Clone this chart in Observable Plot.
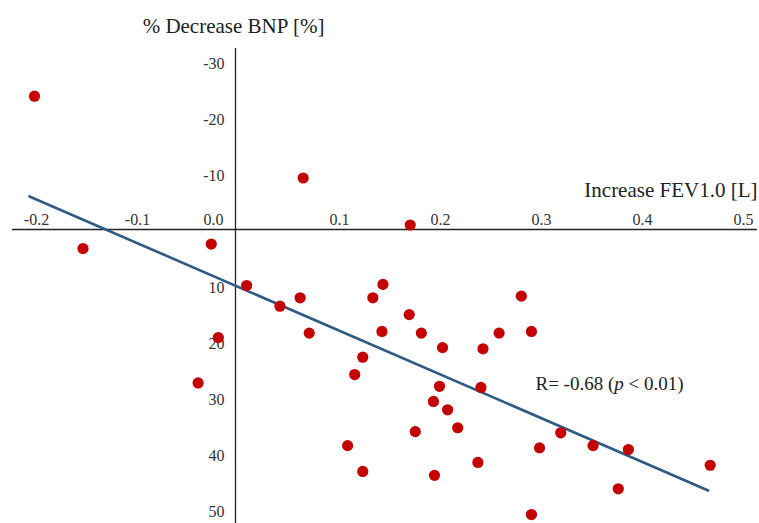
<!DOCTYPE html>
<html>
<head>
<meta charset="utf-8">
<script src="https://cdn.jsdelivr.net/npm/d3@7"></script>
<script src="https://cdn.jsdelivr.net/npm/@observablehq/plot@0.6"></script>
<style>
  html, body { margin: 0; padding: 0; background: #fff; }
  #chart svg { display: block; }
</style>
</head>
<body>
<div id="chart"></div>
<script>
// FEV1.0 increase [L]
const fevIncrease = [
  -0.199, -0.151, -0.024, 0.067, 0.173, 0.011, 0.044, 0.064, 0.073, -0.017,
  -0.037, 0.126, 0.118, 0.111, 0.126, 0.136, 0.146, 0.145, 0.283, 0.172,
  0.184, 0.261, 0.293, 0.205, 0.245, 0.202, 0.243, 0.196, 0.210, 0.220,
  0.178, 0.322, 0.301, 0.354, 0.389, 0.240, 0.197, 0.470, 0.379, 0.293
];
// % decrease BNP
const bnpDecrease = [
  -23.8, 3.4, 2.6, -9.2, -0.8, 10.0, 13.7, 12.2, 18.5, 19.3,
  27.4, 22.8, 25.9, 38.6, 43.2, 12.2, 9.8, 18.2, 11.9, 15.2,
  18.5, 18.5, 18.2, 21.1, 21.3, 28.0, 28.2, 30.7, 32.2, 35.4,
  36.1, 36.3, 39.0, 38.6, 39.3, 41.6, 43.9, 42.1, 46.3, 50.9
];
// regression line endpoints
const fitX = [-0.204, 0.468];
const fitY = [-5.9, 46.6];

const xTicks = [-0.2, -0.1, 0.1, 0.2, 0.3, 0.4, 0.5];
const xTickLabels = ["-0.2", "-0.1", "0.1", "0.2", "0.3", "0.4", "0.5"];
const yTicks = [-30, -20, -10, 10, 20, 30, 40, 50];
const yTickLabels = ["-30", "-20", "-10", "10", "20", "30", "40", "50"];

const xTitle = "Increase FEV1.0 [L]";
const yTitle = "% Decrease BNP [%]";
const rLabel = "R= -0.68 (p < 0.01)";
const rPos = {x: 0.297, y: 27.5};

const points = fevIncrease.map((x, i) => ({x, y: bnpDecrease[i]}));
const fit = fitX.map((x, i) => ({x, y: fitY[i]}));

const font = "'Liberation Serif', 'Times New Roman', serif";

const chart = Plot.plot({
  width: 759,
  height: 523,
  marginTop: 48,
  marginBottom: 0,
  marginLeft: 12,
  marginRight: 2,
  style: {fontFamily: font, background: "#fff", overflow: "visible"},
  x: {domain: [-0.2, 0.5], range: [33, 740], axis: null},
  y: {domain: [-30, 50], range: [61, 509], axis: null},
  marks: [
    Plot.ruleY([0], {stroke: "#222", strokeWidth: 1.3}),
    Plot.ruleX([0], {stroke: "#222", strokeWidth: 1.3}),
    Plot.text(xTicks, {x: d => d, y: () => 0, text: (d, i) => xTickLabels[i], dy: -10, dx: 3, fontSize: 16, fill: "#333"}),
    Plot.text(["0.0"], {x: () => 0, y: () => 0, text: d => d, dy: -10, dx: -12, textAnchor: "end", fontSize: 16, fill: "#333"}),
    Plot.text(yTicks, {x: () => 0, y: d => d, text: (d, i) => yTickLabels[i], dx: -11, dy: 2, textAnchor: "end", fontSize: 16, fill: "#333"}),
    Plot.text([xTitle], {x: () => 0.5, y: () => 0, text: d => d, dx: 17, dy: -39, textAnchor: "end", fontSize: 21, fill: "#222"}),
    Plot.text([yTitle], {x: () => 0, y: () => -30, text: d => d, dx: -2, dy: -35, fontSize: 21, fill: "#222"}),
    Plot.line(fit, {x: "x", y: "y", stroke: "#2d5b86", strokeWidth: 2.6}),
    Plot.dot(points, {x: "x", y: "y", r: 5.6, fill: "#c40000", stroke: "none"}),
    Plot.text([rLabel], {x: () => rPos.x, y: () => rPos.y, text: d => d, textAnchor: "start", fontSize: 19, fill: "#222"})
  ]
});

document.getElementById("chart").appendChild(chart);

// italicize "p" in the R label
chart.querySelectorAll("text").forEach(t => {
  if (t.textContent === rLabel) {
    const ns = "http://www.w3.org/2000/svg";
    t.textContent = "";
    const parts = [["R= -0.68 (", false], ["p", true], [" < 0.01)", false]];
    for (const [s, it] of parts) {
      const ts = document.createElementNS(ns, "tspan");
      ts.textContent = s;
      if (it) ts.setAttribute("font-style", "italic");
      t.appendChild(ts);
    }
  }
});
</script>
</body>
</html>
